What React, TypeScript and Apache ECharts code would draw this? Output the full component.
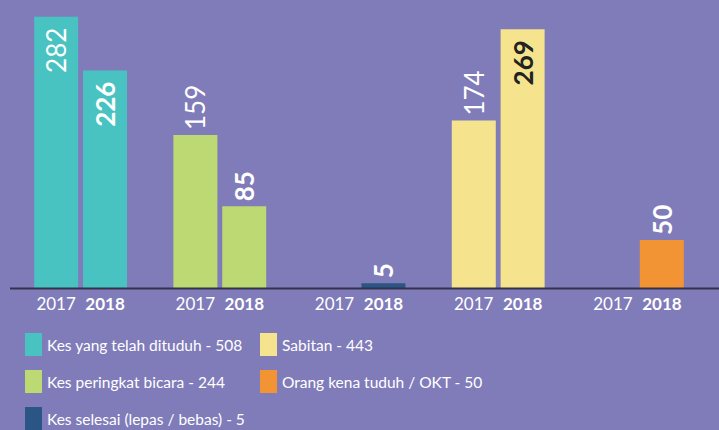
import React, { useEffect, useRef } from 'react';
import * as echarts from 'echarts';

const categories = ['Kes yang telah dituduh', 'Kes peringkat bicara', 'Kes selesai', 'Sabitan', 'Orang kena tuduh'];
const legendNames = [
  'Kes yang telah dituduh - 508',
  'Kes peringkat bicara - 244',
  'Kes selesai (lepas / bebas) - 5',
  'Sabitan - 443',
  'Orang kena tuduh / OKT - 50',
];
const values2017: (number | null)[] = [282, 159, null, 174, null];
const values2018: (number | null)[] = [226, 85, 5, 269, 50];
const yearLabels = ['2017', '2018'];
const colors = ['#48C3C2', '#BDD974', '#2A5585', '#F5E48D', '#F39434'];
const insideLabelColors = ['#FFFFFF', '#FFFFFF', '#FFFFFF', '#222222', '#FFFFFF'];

const FONT = 'Lato, "Noto Sans", sans-serif';

export default function App() {
  const ref = useRef<HTMLDivElement>(null);
  useEffect(() => {
    document.body.style.margin = '0';
    if (!ref.current) return;
    const chart = echarts.init(ref.current, null, { renderer: 'svg' });

    const series: any[] = [];
    const years = [values2017, values2018];
    categories.forEach((_, ci) => {
      years.forEach((vals, yi) => {
        const v = vals[ci];
        const data = categories.map((__, k) => {
          if (k !== ci || v == null) return '-';
          const inside = v > 220;
          return {
            value: v,
            label: inside
              ? { position: 'insideTop', align: 'right', verticalAlign: 'middle', distance: 11, color: insideLabelColors[ci] }
              : { position: 'top', align: 'left', verticalAlign: 'middle', distance: 5, color: '#FFFFFF' },
          };
        });
        series.push({
          type: 'bar',
          name: legendNames[ci],
          stack: 'y' + yearLabels[yi],
          barWidth: 44,
          barGap: '11%',
          itemStyle: { color: colors[ci] },
          label: {
            show: true,
            rotate: 90,
            fontFamily: FONT,
            fontSize: 26,
            fontWeight: yi === 1 ? 'bold' : 'normal',
            formatter: (p: any) => String(p.value),
          },
          data,
        });
      });
    });

    const legendBase = {
      orient: 'vertical',
      icon: 'rect',
      itemWidth: 17,
      itemHeight: 23,
      itemGap: 14,
      padding: 0,
      height: 200,
      selectedMode: false,
      textStyle: { color: '#FFFFFF', fontSize: 15.5, fontFamily: FONT },
    };

    chart.setOption({
      animation: false,
      backgroundColor: '#807CBA',
      grid: { left: 11, right: 12, top: 9, bottom: 142 },
      xAxis: {
        type: 'category',
        data: categories,
        axisLine: { show: false },
        axisTick: { show: false },
        axisLabel: {
          margin: 7,
          interval: 0,
          formatter: () => `{a|${yearLabels[0]}}{s|}{b|${yearLabels[1]}}`,
          rich: {
            a: { width: 44, align: 'center', fontSize: 17, color: '#FFFFFF', fontFamily: FONT },
            s: { width: 5 },
            b: { width: 44, align: 'center', fontSize: 17, fontWeight: 'bold', color: '#FFFFFF', fontFamily: FONT },
          },
        },
      },
      yAxis: { type: 'value', min: 0, max: 290, show: false },
      legend: [
        { ...legendBase, left: 25, top: 333, data: legendNames.slice(0, 3) },
        { ...legendBase, left: 260, top: 333, data: legendNames.slice(3) },
      ],
      graphic: [
        {
          type: 'line',
          z: 100,
          shape: { x1: 10, y1: 288.5, x2: 719, y2: 288.5 },
          style: { stroke: '#35314A', lineWidth: 2 },
        },
      ],
      series,
    });
    return () => chart.dispose();
  }, []);
  return <div ref={ref} style={{ width: 719, height: 430 }} />;
}
